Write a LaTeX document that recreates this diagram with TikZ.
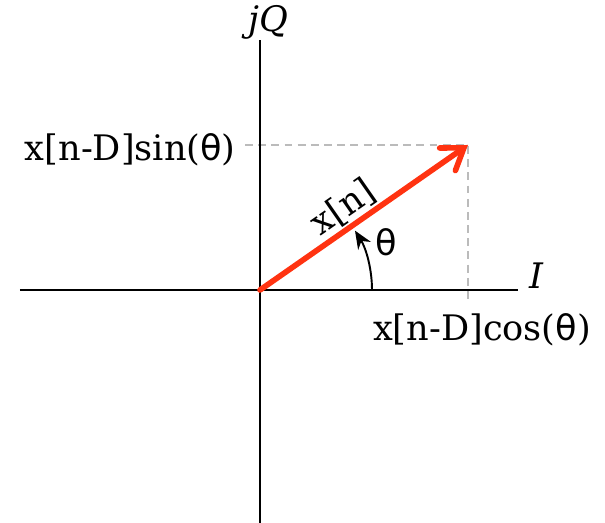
\documentclass[tikz,border=0pt]{standalone}
\usepackage{fontspec}
\setmainfont{DejaVu Serif}
\newfontfamily\thetafont{DejaVu Sans}
\usetikzlibrary{arrows.meta}
\definecolor{vecred}{HTML}{FF3311}
\definecolor{guidegray}{HTML}{BBBBBB}
\newcommand{\thet}{{\thetafont θ}}

\begin{document}
\begin{tikzpicture}[>=Stealth, line width=1.1pt, font=\fontsize{20}{22}\selectfont]
  % x, y in cm, origin where the I and jQ axes cross
  \useasboundingbox (-5.2,-4.66) rectangle (6.9,5.8);

  \coordinate (O) at (0,0);
  \coordinate (P) at (4.16,2.9);
  \coordinate (Px) at (4.16,-0.2);
  \coordinate (Py) at (-0.3,2.9);

  % guide lines to the projections
  \draw[guidegray, line width=1.2pt, dash pattern=on 4.5pt off 3pt] (Py) -- (P) -- (Px);

  % axes
  \coordinate (Iw) at (-4.8,0);
  \coordinate (Ie) at (5.16,0);
  \coordinate (Qn) at (0,5.0);
  \coordinate (Qs) at (0,-4.66);
  \draw[black] (Iw) -- (Ie);
  \draw[black] (Qs) -- (Qn);
  \node (Ilabel) at (5.54,0.28) {\textit{I}};
  \node (Qlabel) at (0.16,5.36) {\textit{jQ}};

  % projection labels
  \node[anchor=east] (sinlabel) at (-0.35,2.8) {x[n-D]sin(\thet)};
  \node (coslabel) at (4.44,-0.8) {x[n-D]cos(\thet)};

  % angle
  \draw[black, line width=1.1pt, -{Stealth[length=3.6mm, width=3mm]}]
     (2.24,0) arc[start angle=0, end angle=32, radius=2.24];
  \node (thetalabel) at (2.52,0.96) {\thet};

  % the vector
  \draw[vecred, line width=3.2pt, line cap=round,
        -{Straight Barb[length=4mm, width=5.5mm, line cap=round]}] (O) -- (P);
  \path (O) -- (P) node[sloped, above, pos=0.455, inner sep=2pt] (xnlabel) {x[n]};
\end{tikzpicture}
\end{document}
